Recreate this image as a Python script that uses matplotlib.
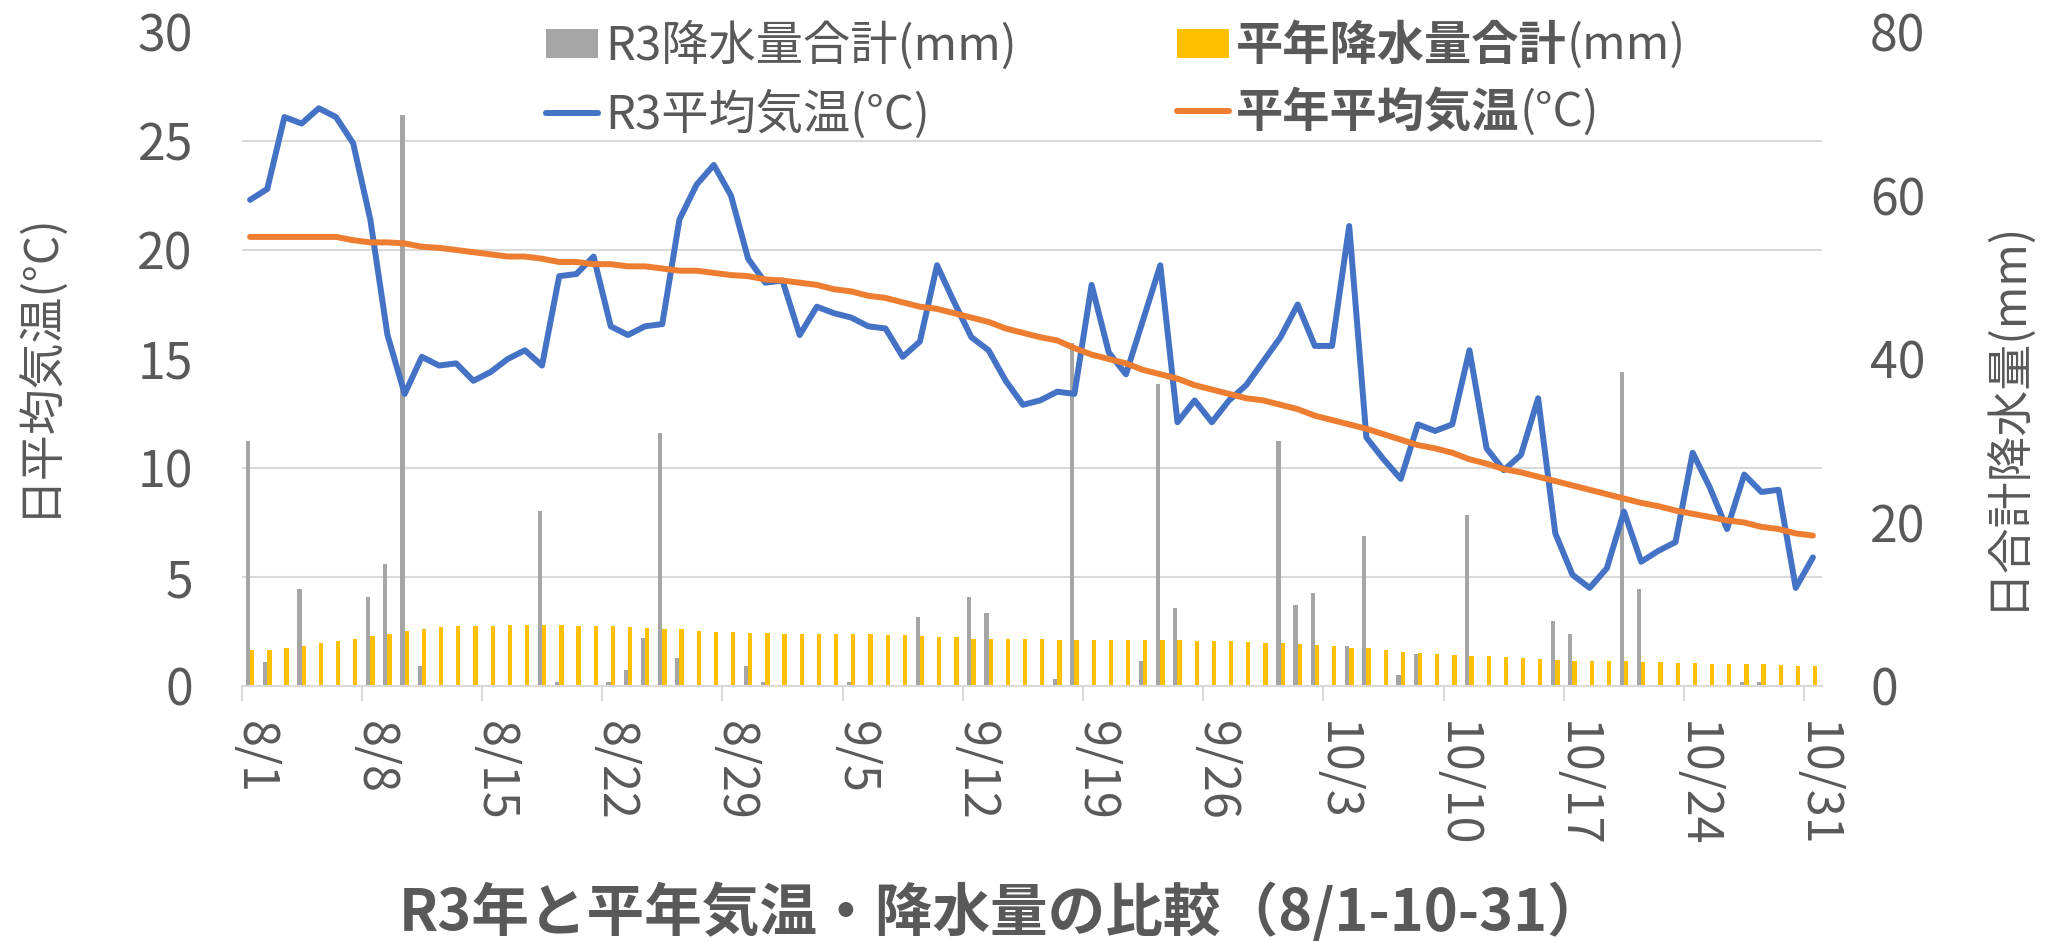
import numpy as np
import pandas as pd
import matplotlib
matplotlib.use("Agg")
import matplotlib.pyplot as plt
from matplotlib.patches import Patch
from matplotlib.lines import Line2D
from matplotlib.transforms import ScaledTranslation

plt.rcParams['font.family'] = ['Noto Sans CJK JP', 'DejaVu Sans']

# ---- data ----
dates = pd.date_range('2021-08-01', '2021-10-31', freq='D')
categories = [f"{d.month}/{d.day}" for d in dates]

r3_temp = [22.3, 22.8, 26.1, 25.8, 26.5, 26.1, 24.9, 21.4, 16.1, 13.4,
           15.1, 14.7, 14.8, 14.0, 14.4, 15.0, 15.4, 14.7, 18.8, 18.9,
           19.7, 16.5, 16.1, 16.5, 16.6, 21.4, 23.0, 23.9, 22.5, 19.6,
           18.5, 18.6, 16.1, 17.4, 17.1, 16.9, 16.5, 16.4, 15.1, 15.8,
           19.3, 17.6, 16.0, 15.4, 14.0, 12.9, 13.1, 13.5, 13.4, 18.4,
           15.3, 14.3, 16.8, 19.3, 12.1, 13.1, 12.1, 13.1, 13.8, 14.9,
           16.0, 17.5, 15.6, 15.6, 21.1, 11.4, 10.4, 9.5, 12.0, 11.7,
           12.0, 15.4, 10.9, 9.9, 10.6, 13.2, 7.0, 5.1, 4.5, 5.4,
           8.0, 5.7, 6.2, 6.6, 10.7, 9.1, 7.2, 9.7, 8.9, 9.0,
           4.5, 5.9]

normal_temp = [20.6, 20.6, 20.6, 20.6, 20.6, 20.6, 20.45, 20.35, 20.35, 20.3,
               20.15, 20.1, 20.0, 19.9, 19.8, 19.7, 19.7, 19.6, 19.45, 19.45,
               19.35, 19.35, 19.25, 19.25, 19.15, 19.05, 19.05, 18.95, 18.85, 18.8,
               18.65, 18.6, 18.5, 18.4, 18.2, 18.1, 17.9, 17.8, 17.6, 17.4,
               17.3, 17.1, 16.9, 16.7, 16.4, 16.2, 16.0, 15.85, 15.5, 15.2,
               15.0, 14.8, 14.5, 14.3, 14.1, 13.8, 13.6, 13.4, 13.2, 13.1,
               12.9, 12.7, 12.4, 12.2, 12.0, 11.8, 11.55, 11.3, 11.05, 10.9,
               10.7, 10.4, 10.2, 9.95, 9.8, 9.6, 9.4, 9.2, 9.0, 8.8,
               8.6, 8.4, 8.25, 8.05, 7.9, 7.75, 7.6, 7.5, 7.3, 7.2,
               7.0, 6.9]

r3_precip = [30.0, 2.9, 0, 11.9, 0, 0, 0, 10.9, 14.9, 69.9,
             2.4, 0, 0, 0, 0, 0, 0, 21.4, 0.45, 0,
             0, 0.45, 2.0, 5.9, 30.9, 3.4, 0, 0, 0, 2.4,
             0.45, 0, 0, 0, 0, 0.45, 0, 0, 0, 8.5,
             0, 0, 10.9, 8.9, 0, 0, 0, 0.9, 41.9, 0,
             0, 0, 3.0, 37.0, 9.5, 0, 0, 0, 0, 0,
             30.0, 9.9, 11.4, 0, 4.9, 18.4, 0, 1.35, 3.9, 0,
             0, 20.9, 0, 0, 0, 0, 7.9, 6.4, 0, 0,
             38.4, 11.9, 0, 0, 0, 0, 0, 0.45, 0.45, 0,
             0, 0]

normal_precip = [4.4, 4.45, 4.6, 4.9, 5.2, 5.5, 5.8, 6.1, 6.35, 6.7,
                 7.0, 7.25, 7.3, 7.4, 7.4, 7.45, 7.45, 7.45, 7.45, 7.4,
                 7.4, 7.3, 7.25, 7.1, 7.0, 6.95, 6.75, 6.65, 6.6, 6.45,
                 6.45, 6.4, 6.4, 6.4, 6.3, 6.3, 6.3, 6.2, 6.2, 6.1,
                 6.0, 5.95, 5.8, 5.75, 5.75, 5.7, 5.7, 5.6, 5.6, 5.6,
                 5.6, 5.6, 5.6, 5.6, 5.6, 5.45, 5.45, 5.45, 5.4, 5.3,
                 5.2, 5.1, 5.0, 4.9, 4.7, 4.6, 4.4, 4.2, 4.0, 3.9,
                 3.8, 3.7, 3.7, 3.5, 3.45, 3.3, 3.2, 3.1, 3.1, 3.0,
                 3.0, 2.95, 2.95, 2.8, 2.8, 2.75, 2.75, 2.7, 2.7, 2.6,
                 2.5, 2.5]

temp_ticks = [0, 5, 10, 15, 20, 25, 30]
precip_ticks = [0, 20, 40, 60, 80]

title = "R3年と平年気温・降水量の比較（8/1-10-31）"
ylabel_left = "日平均気温(°C)"
ylabel_right = "日合計降水量(mm)"

# ---- style ----
TXT = '#595959'
GRID = '#D9D9D9'
C_GRAY = '#A5A5A5'
C_YEL = '#FFC000'
C_BLUE = '#4472C4'
C_ORA = '#ED7D31'
LW = 4.3

W, H = 2046, 941
fig = plt.figure(figsize=(W / 100, H / 100), dpi=100)
L, R, B, T = 241.5, 1821.5, 686, 32
ax1 = fig.add_axes([L / W, 1 - B / H, (R - L) / W, (B - T) / H])
ax2 = ax1.twinx()
ax1.set_zorder(2)
ax1.patch.set_visible(False)

x = np.arange(len(categories))
bw = 0.25
ax2.bar(x - bw / 2, r3_precip, width=bw, color=C_GRAY, zorder=2)
ax2.bar(x + bw / 2, normal_precip, width=bw, color=C_YEL, zorder=2)

ax1.plot(x, r3_temp, color=C_BLUE, lw=LW, solid_joinstyle='round',
         solid_capstyle='round', zorder=3)
ax1.plot(x, normal_temp, color=C_ORA, lw=LW, solid_joinstyle='round',
         solid_capstyle='round', zorder=3)

ax1.set_xlim(-0.5, len(categories) - 0.5)
ax1.set_ylim(0, 30)
ax2.set_ylim(0, 80)

ax1.set_yticks(temp_ticks)
ax2.set_yticks(precip_ticks)
ax2.set_yticks(np.array(temp_ticks) * 80 / 30, minor=True)
ax2.grid(which='minor', axis='y', color=GRID, lw=1.5)
ax2.grid(which='major', visible=False)
ax2.set_axisbelow(True)

ax1.tick_params(axis='y', length=0, labelsize=36, labelcolor=TXT, pad=35)
ax2.tick_params(axis='y', which='both', length=0, labelsize=36,
                labelcolor=TXT, pad=35)

ax1.set_xticks(x[::7])
ax1.set_xticklabels([categories[i] for i in x[::7]])
ax1.set_xticks(np.arange(-0.5, len(categories) - 1, 7), minor=True)
ax1.tick_params(axis='x', which='major', length=0, labelsize=35,
                labelcolor=TXT, labelrotation=270, pad=25)
ax1.tick_params(axis='x', which='minor', length=11, width=1.5, color=GRID,
                direction='out')
off = ScaledTranslation(4 / 100, 0, fig.dpi_scale_trans)
for lbl in ax1.get_xticklabels():
    lbl.set_transform(lbl.get_transform() + off)

for a in (ax1, ax2):
    for s in ('top', 'left', 'right', 'bottom'):
        a.spines[s].set_visible(False)
ax1.spines['bottom'].set_visible(True)
ax1.spines['bottom'].set_color(GRID)
ax1.spines['bottom'].set_linewidth(1.5)

fig.text(39 / W, 1 - 364 / H, ylabel_left, rotation=90, ha='center',
         va='center', fontsize=33, color=TXT)
fig.text(2007 / W, 1 - 414 / H, ylabel_right, rotation=90, ha='center',
         va='center', fontsize=33, color=TXT)
fig.text(1002 / W, 1 - 913 / H, title, ha='center', va='center',
         fontsize=41.5, fontweight='bold', color=TXT)

# ---- legend ----
handles = [Patch(facecolor=C_GRAY),
           Line2D([], [], color=C_BLUE, lw=LW, solid_capstyle='round'),
           Patch(facecolor=C_YEL),
           Line2D([], [], color=C_ORA, lw=LW, solid_capstyle='round')]
labels = ['R3降水量合計(mm)', 'R3平均気温(°C)', '平年降水量合計', '平年平均気温']
FS_LEG = 34
leg = ax1.legend(handles, labels, ncol=2, loc='upper left',
                 bbox_to_anchor=(546 / W, 1 - 22 / H),
                 bbox_transform=fig.transFigure, frameon=False,
                 fontsize=FS_LEG, labelcolor=TXT, borderpad=0, borderaxespad=0,
                 handlelength=1.1, handleheight=0.58, handletextpad=0.15,
                 columnspacing=3.4, labelspacing=0.4)
leg.set_zorder(5)
texts = leg.get_texts()
texts[2].set_fontweight('bold')
texts[3].set_fontweight('bold')
for t, suffix in ((texts[2], '(mm)'), (texts[3], '(°C)')):
    ax1.annotate(suffix, xy=(1, 0), xycoords=t, ha='left', va='bottom',
                 fontsize=FS_LEG, color=TXT, zorder=10, annotation_clip=False)

fig.savefig('out.png', dpi=100)
